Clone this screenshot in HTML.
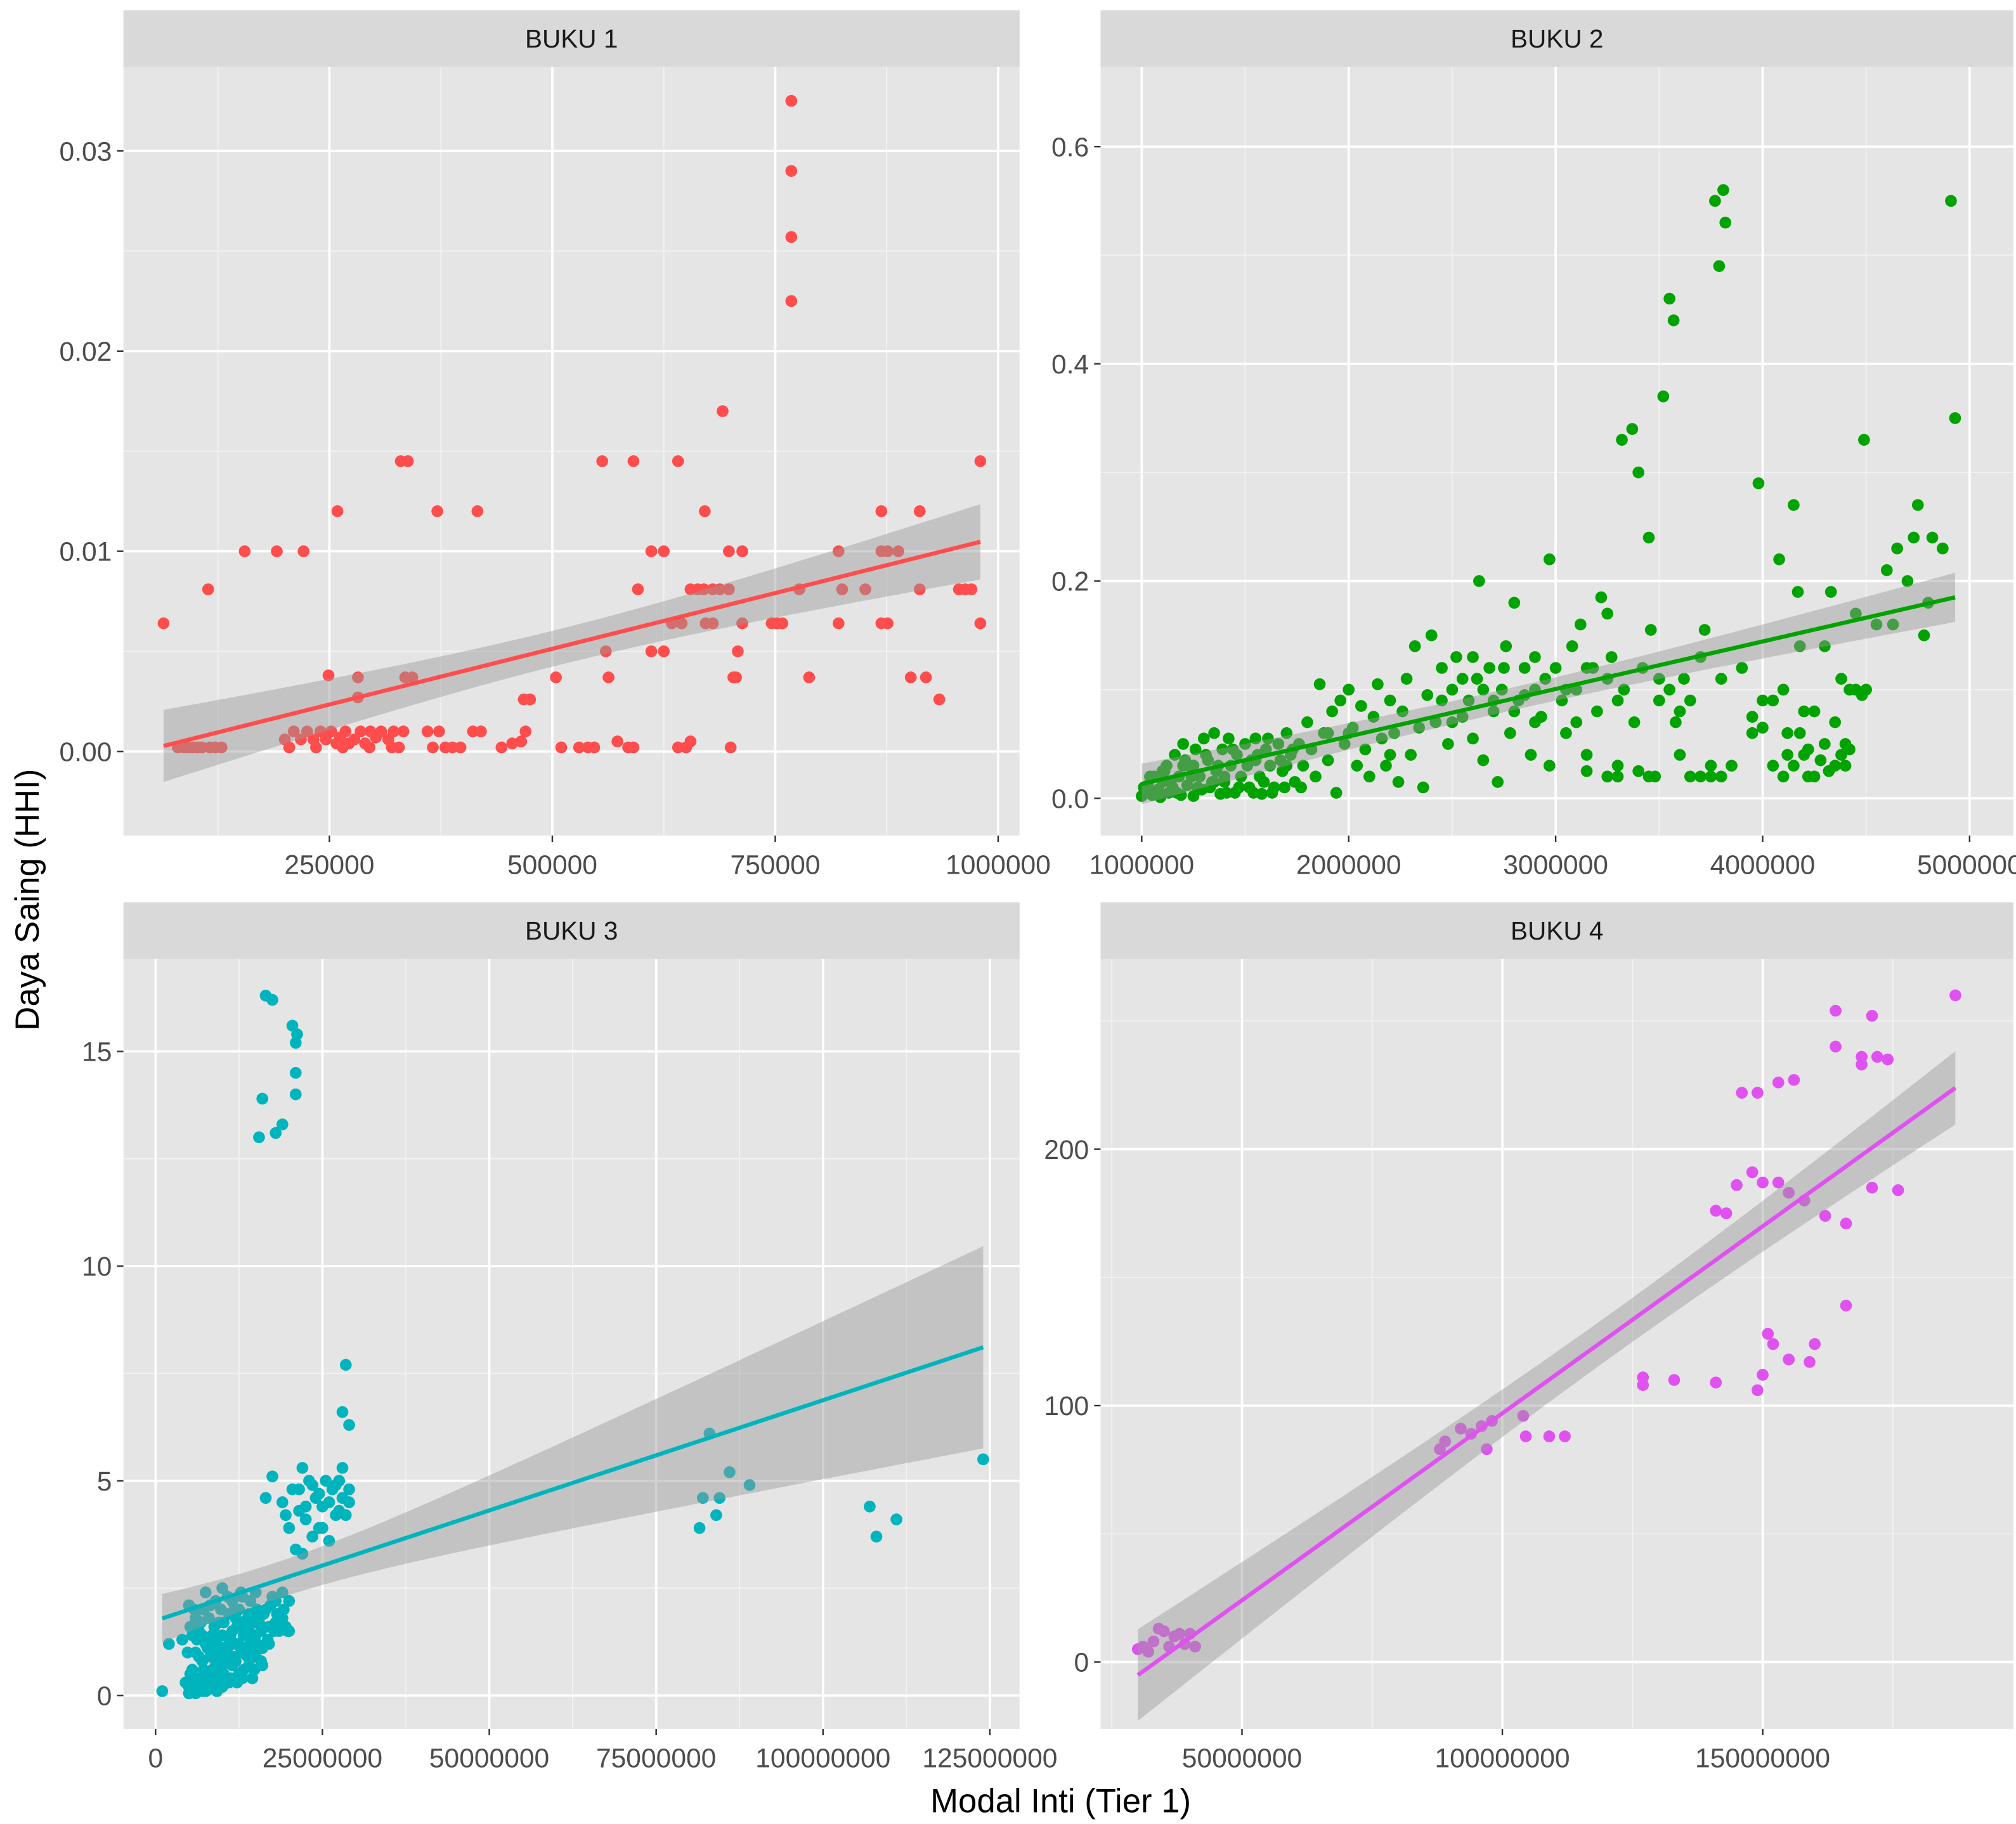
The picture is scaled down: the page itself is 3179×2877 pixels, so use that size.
<!DOCTYPE html>
<html><head><meta charset="utf-8"><style>
html,body{margin:0;padding:0;background:#fff;}
svg{display:block;}
text{font-family:"Liberation Sans",Arial,sans-serif;}
</style></head><body>
<svg id="chart" xmlns="http://www.w3.org/2000/svg" width="3179" height="2877" viewBox="0 0 1568 1419">
<rect x="0" y="0" width="1568" height="1419" fill="#fff"/>
<text x="825" y="1410" font-size="26" text-anchor="middle" fill="#000">Modal Inti (Tier 1)</text>
<text x="0" y="0" transform="translate(30,700) rotate(-90)" font-size="26" text-anchor="middle" fill="#000">Daya Saing (HHI)</text>
</svg>
<script>
// ---- BUKU 1 data (x in thousands) ----
const b1x = [64,87,97,107,116,129,114,155,191,221,249,259,282,282,200,210,218,225,232,240,246,252,258,262,268,272,278,285,290,296,302,308,316,322,328,333,330,338,335,343,371,416,360,366,373,380,388,397,411,420,443,455,465,470,468,475,504,510,530,540,547,556,560,563,573,585,591,591,596,611,611,625,625,641,641,650,655,634,645,655,663,670,680,688,698,671,691,698,713,703,706,708,700,672,680,713,746,752,758,768,768,768,768,777,788,821,825,821,851,869,869,876,869,876,888,902,912,912,919,934,956,963,970,980,980,80,92,102,122,205,235,265,295,320];
const b1y = [.0064,.0002,.0002,.0002,.0002,.0002,.0081,.010,.010,.010,.0038,.012,.0037,.0027,.0006,.0010,.0006,.0010,.0006,.0010,.0006,.0010,.0004,.0007,.0010,.0004,.0006,.0010,.0004,.0010,.0007,.0010,.0006,.0010,.0002,.0010,.0145,.0145,.0037,.0037,.012,.012,.001,.0002,.001,.0002,.0002,.0002,.001,.001,.0002,.0004,.0005,.001,.0026,.0026,.0037,.0002,.0002,.0002,.0002,.0145,.005,.0037,.0005,.0002,.0002,.0145,.0081,.010,.005,.005,.010,.0145,.0002,.0002,.0005,.0064,.0064,.0081,.0081,.0081,.0081,.0081,.0081,.012,.017,.010,.010,.0037,.0037,.005,.0002,.0064,.0064,.0064,.0064,.0064,.0064,.0325,.029,.0257,.0225,.0081,.0037,.010,.0081,.0064,.0081,.012,.010,.010,.0064,.0064,.010,.0037,.012,.0081,.0037,.0026,.0081,.0081,.0081,.0064,.0145,.0002,.0002,.0002,.0002,.0002,.0002,.0002,.0002,.0002];
// ---- BUKU 2 data (x in millions) ----
const b2x = [1.00,1.02,1.03,1.05,1.06,1.08,1.09,1.1,1.12,1.13,1.15,1.16,1.18,1.19,1.2,1.22,1.23,1.25,1.26,1.28,1.29,1.3,1.32,1.33,1.35,1.36,1.38,1.39,1.4,1.42,1.43,1.45,1.46,1.48,1.5,1.52,1.53,1.55,1.57,1.58,1.6,1.62,1.64,1.66,1.68,1.7,1.72,1.74,1.76,1.78,1.8,1.82,1.84,1.86,1.88,1.9,1.92,1.94,1.96,1.98,2.0,2.02,2.04,2.06,2.08,2.1,2.12,2.14,2.16,2.18,2.2,2.22,2.24,2.26,2.28,2.3,2.32,2.34,2.36,2.38,2.4,2.42,2.45,2.48,2.5,2.52,2.55,2.58,2.6,2.62,2.63,2.65,2.68,2.7,2.72,2.74,2.76,2.78,2.8,2.82,2.85,2.88,2.9,2.93,2.97,2.97,3.0,3.03,3.05,3.08,3.1,3.12,3.15,3.18,3.2,3.22,3.25,3.27,3.3,3.32,3.33,3.37,3.38,3.4,3.42,3.45,3.46,3.48,3.5,3.52,3.55,3.57,3.58,3.62,3.65,3.7,3.72,3.75,3.77,3.79,3.8,3.81,3.82,3.85,3.9,3.95,3.98,4.0,4.05,4.08,4.1,4.12,4.15,4.17,4.18,4.2,4.22,4.25,4.3,4.33,4.35,4.38,4.4,4.42,4.45,4.49,4.5,4.55,4.6,4.63,4.65,4.7,4.73,4.75,4.78,4.8,4.82,4.87,4.91,4.93,2.2,2.5,2.9,3.1,3.3,3.5,3.65,2.0,1.7,1.9,1.1,1.25,1.4,1.55,1.35,1.2,
 4.1,4.12,4.15,4.18,4.2,4.22,4.25,4.28,4.3,4.32,4.35,4.38,4.4,4.42,4.05,4.0,3.95,4.45,4.48,3.8,3.75,3.7,3.6,3.45,3.4,3.3,3.25,3.15,3.6,3.55,
 1.01,1.04,1.07,1.11,1.14,1.17,1.21,1.24,1.27,1.31,1.34,1.37,1.41,1.44,1.47,1.51,1.54,1.56,1.59,1.61,1.63,1.67,1.69,1.73,1.77,
 2.45,2.55,2.65,2.75,2.85,2.95,3.05,3.15,3.25,2.6,2.7,2.8,2.9];
const b2y = [.002,.005,.012,.003,.02,.008,.001,.015,.03,.005,.01,.04,.02,.003,.05,.012,.03,.002,.045,.02,.008,.055,.035,.01,.06,.025,.004,.045,.015,.055,.03,.005,.04,.02,.05,.01,.035,.055,.02,.004,.045,.03,.01,.05,.025,.06,.04,.015,.05,.03,.07,.045,.02,.105,.06,.035,.08,.005,.09,.05,.1,.065,.03,.085,.045,.02,.075,.105,.055,.03,.09,.06,.015,.08,.11,.04,.14,.065,.01,.095,.15,.07,.12,.05,.1,.13,.075,.09,.055,.11,.2,.035,.12,.08,.015,.1,.14,.06,.18,.09,.12,.04,.1,.075,.22,.03,.12,.09,.06,.14,.1,.16,.025,.12,.08,.185,.17,.13,.02,.33,.1,.34,.07,.3,.12,.24,.155,.02,.09,.37,.46,.44,.07,.11,.02,.13,.155,.02,.55,.49,.11,.56,.53,.03,.12,.06,.29,.09,.03,.22,.1,.06,.27,.19,.14,.04,.02,.08,.14,.19,.03,.11,.05,.1,.17,.33,.1,.16,.21,.16,.23,.2,.24,.27,.15,.18,.24,.23,.55,.35,.04,.07,.07,.07,.09,.11,.09,.06,.03,.06,.025,.03,.02,.035,.015,.03,
 .02,.04,.03,.06,.08,.045,.02,.035,.05,.025,.07,.04,.03,.045,.09,.065,.075,.1,.095,.02,.03,.02,.04,.02,.025,.03,.02,.04,.08,.1,
 .01,.02,.006,.025,.015,.005,.035,.02,.01,.04,.015,.03,.005,.045,.01,.03,.005,.04,.015,.055,.005,.035,.01,.045,.01,
 .09,.11,.1,.12,.095,.11,.1,.12,.11,.13,.09,.08,.13];
// ---- BUKU 3 data (x in millions) ----
const b3x = [1,2,4,5,5,5.5,6,6,6.5,7,7,7.5,7.5,8,8,8.5,9,9,9.5,10,10,10.5,11,11,11.5,12,12.5,13,13,13.5,14,14,14.5,15,15,15.5,16,16.5,17,17.5,18,18.5,19,19.5,20,5.5,6.5,8.5,9.5,11.5,12.5,14.5,16,10,5,6,7,8,9,15.5,16,16.5,17.5,18,19,20.5,21,21.2,21,21,16.5,17.5,19,19.5,20,20.5,21,21.5,22,22.5,23,23.5,24,24.5,25,25.5,26,26.5,27,27.5,28,28,28.5,29,28.5,28,29,81.5,82,83,84,84.5,86,89,107,108,111,124,
 4.5,4.8,5.2,5.2,5.8,5.8,6.2,6.2,6.8,6.8,7.2,7.2,7.8,7.8,8.2,8.2,8.8,8.8,9.2,9.2,9.8,9.8,10.2,10.2,10.8,10.8,11.2,11.2,11.8,11.8,12.2,12.2,12.8,12.8,13.2,13.2,13.8,13.8,14.2,14.2,14.8,14.8,15.2,15.2,15.8,15.8,16.2,16.8,17.2,17.8,18.2,18.8,19.2,19.8,5,5.5,6,6.5,7,7.5,8,8.5,9,9.5,10,10.5,11,11.5,12,12.5,13,13.5,14,14.5,15,16,17,18,19,20,6,7,8,9,10,11,12,13,14,15,22.5,23.5,24.5,26,27,22,21.5,25,27.5,29];
const b3y = [0.1,1.2,1.3,2.1,0.2,0.6,1.0,0.3,1.5,0.1,0.8,2.4,1.2,0.5,1.8,0.2,2.2,1.0,0.6,2.5,1.4,0.3,1.9,0.8,2.2,1.2,0.5,1.7,2.3,1.0,0.7,1.9,1.4,2.4,0.9,1.8,1.1,2.0,1.6,2.3,1.7,1.5,2.4,1.6,1.5,1.4,0.9,1.4,1.7,1.5,2.0,0.4,0.7,0.2,0.05,0.1,0.2,0.15,0.3,13,13.9,16.3,16.2,13.1,13.3,15.6,15.2,15.4,14.5,14,4.6,5.1,4.5,4.2,3.9,4.8,3.4,4.3,5.3,4.1,5.0,3.7,4.6,3.9,4.4,5.0,3.6,4.8,4.9,4.3,5.3,4.6,4.2,4.5,7.7,6.6,6.3,3.9,4.6,6.1,4.2,4.6,5.2,4.9,4.4,3.7,4.1,5.5,
 0.3,1.0,0.5,1.6,0.1,2.0,0.4,1.3,0.2,1.7,0.6,2.0,0.3,1.1,0.9,2.1,0.4,1.6,0.1,1.2,0.8,2.0,0.5,1.7,1.1,2.3,0.4,1.4,0.9,2.0,0.3,1.6,1.0,2.4,0.6,1.4,1.8,0.9,1.2,2.2,0.6,1.7,1.2,2.0,1.5,0.8,1.9,1.3,2.1,1.5,1.9,1.6,2.0,1.5,0.05,0.1,0.05,0.3,0.4,0.1,0.2,0.6,0.3,0.2,0.7,0.9,0.3,0.7,0.8,1.2,0.4,1.6,1.5,1.0,1.4,1.6,1.2,2.2,1.8,2.2,1.8,1.4,1.3,0.7,1.1,1.2,1.8,1.1,1.1,1.9,4.4,4.9,4.7,4.5,4.2,3.3,4.8,3.9,5.0,4.8];
// ---- BUKU 4 data (x in millions) ----
const b4x = [30,31,32,33,34,35,36,37,38,39,40,41,88,89,92,94,96,97,98,104,104.5,109,112,127,127,133,141,141,143,145,146,148,149,149,150,150,151,152,153,153,155,155,156,158,159,160,162,164,164,166,166,169,169,171,171,172,174,176,187];
const b4y = [5,6,4,8,13,12,6,10,11,7,11,6,83,86,91,89,92,83,94,96,88,88,88,111,108,110,109,176,175,186,222,191,222,106,112,187,128,124,226,187,183,118,227,180,117,124,174,254,240,171,139,233,236,185,252,236,235,184,260];
// ---- tick labels ----
const b1xTicks = [250000,500000,750000,1000000];
const b1yTicks = [0,0.01,0.02,0.03];
const b1yLabels = ["0.00","0.01","0.02","0.03"];
const b2xTicks = [1000000,2000000,3000000,4000000,5000000];
const b2yTicks = [0,0.2,0.4,0.6];
const b2yLabels = ["0.0","0.2","0.4","0.6"];
const b3xTicks = [0,25000000,50000000,75000000,100000000,125000000];
const b3yTicks = [0,5,10,15];
const b3yLabels = ["0","5","10","15"];
const b4xTicks = [50000000,100000000,150000000];
const b4yTicks = [0,100,200];
const b4yLabels = ["0","100","200"];

const NS='http://www.w3.org/2000/svg';
const svg=document.getElementById('chart');
function mk(tag,attrs,parent){const e=document.createElementNS(NS,tag);for(const k in attrs)e.setAttribute(k,attrs[k]);(parent||svg).appendChild(e);return e;}

const panels=[
 {title:'BUKU 1',key:'buku-1',x0:96,x1:793,y0:52,y1:650,xs:b1x.map(v=>v*1e3),ys:b1y,dx:[19000,1024000],dy:[-0.0042,0.0342],xt:b1xTicks,xmin:[125000,375000,625000,875000],yt:b1yTicks,yl:b1yLabels,ymin:[0.005,0.015,0.025],col:'#FF4D4D'},
 {title:'BUKU 2',key:'buku-2',x0:856,x1:1566,y0:52,y1:650,xs:b2x.map(v=>v*1e6),ys:b2y,dx:[801200,5211800],dy:[-0.0343,0.6734],xt:b2xTicks,xmin:[1500000,2500000,3500000,4500000],yt:b2yTicks,yl:b2yLabels,ymin:[0.1,0.3,0.5],col:'#00A300'},
 {title:'BUKU 3',key:'buku-3',x0:96,x1:793,y0:746,y1:1345,xs:b3x.map(v=>v*1e6),ys:b3y,dx:[-4815000,129450000],dy:[-0.778,17.155],xt:b3xTicks,xmin:[12500000,37500000,62500000,87500000,112500000],yt:b3yTicks,yl:b3yLabels,ymin:[2.5,7.5,12.5],col:'#00B4BE'},
 {title:'BUKU 4',key:'buku-4',x0:856,x1:1566,y0:746,y1:1345,xs:b4x.map(v=>v*1e6),ys:b4y,dx:[22840000,198150000],dy:[-26.07,274.2],xt:b4xTicks,xmin:[25000000,75000000,125000000,175000000],yt:b4yTicks,yl:b4yLabels,ymin:[50,150,250],col:'#E052F0'}
];

panels.forEach(p=>{
 const strip=p.y0-44;
 const X=v=>p.x0+(v-p.dx[0])/(p.dx[1]-p.dx[0])*(p.x1-p.x0);
 const Y=v=>p.y1-(v-p.dy[0])/(p.dy[1]-p.dy[0])*(p.y1-p.y0);
 const g=mk('g',{});
 
 
 const st=mk('rect',{x:p.x0,y:strip,width:p.x1-p.x0,height:44,fill:'#D9D9D9'},g);
 
 
 const stt=mk('text',{x:(p.x0+p.x1)/2,y:strip+29,'font-size':20,'text-anchor':'middle',fill:'#1A1A1A'},g);
 stt.textContent=p.title;
 
 
 const bg=mk('rect',{x:p.x0,y:p.y0,width:p.x1-p.x0,height:p.y1-p.y0,fill:'#E5E5E5'},g);
 
 
 p.xmin.forEach(v=>{const l=mk('line',{x1:X(v),x2:X(v),y1:p.y0,y2:p.y1,stroke:'#F2F2F2','stroke-width':0.9},g);});
 p.ymin.forEach(v=>{const l=mk('line',{x1:p.x0,x2:p.x1,y1:Y(v),y2:Y(v),stroke:'#F2F2F2','stroke-width':0.9},g);});
 p.xt.forEach(v=>{
  const l=mk('line',{x1:X(v),x2:X(v),y1:p.y0,y2:p.y1,stroke:'#fff','stroke-width':1.8},g);
  
  
  const t=mk('line',{x1:X(v),x2:X(v),y1:p.y1,y2:p.y1+5,stroke:'#333','stroke-width':1.2},g);
  
  
  const tx=mk('text',{x:X(v),y:p.y1+30,'font-size':21,'text-anchor':'middle',fill:'#4D4D4D'},g);
  tx.textContent=String(v);
  
  
 });
 p.yt.forEach((v,i)=>{
  const l=mk('line',{x1:p.x0,x2:p.x1,y1:Y(v),y2:Y(v),stroke:'#fff','stroke-width':1.8},g);
  
  
  const t=mk('line',{x1:p.x0-5,x2:p.x0,y1:Y(v),y2:Y(v),stroke:'#333','stroke-width':1.2},g);
  
  
  const tx=mk('text',{x:p.x0-9,y:Y(v)+7.5,'font-size':21,'text-anchor':'end',fill:'#4D4D4D'},g);
  tx.textContent=p.yl[i];
  
  
 });
 p.xs.forEach((xv,i)=>{
  const c=mk('circle',{cx:X(xv),cy:Y(p.ys[i]),r:4.6,fill:p.col},g);
  
  
 });
 const n=p.xs.length;let mx=0,my=0;p.xs.forEach((v,i)=>{mx+=v;my+=p.ys[i];});mx/=n;my/=n;
 let sxx=0,sxy=0;p.xs.forEach((v,i)=>{sxx+=(v-mx)*(v-mx);sxy+=(v-mx)*(p.ys[i]-my);});
 const b=sxy/sxx,a=my-b*mx;let sse=0;p.xs.forEach((v,i)=>{const r=p.ys[i]-(a+b*v);sse+=r*r;});
 const s=Math.sqrt(sse/(n-2));
 const xlo=Math.min(...p.xs),xhi=Math.max(...p.xs);
 const up=[],dn=[];
 for(let k=0;k<=40;k++){const xv=xlo+(xhi-xlo)*k/40;const se=1.97*s*Math.sqrt(1/n+(xv-mx)*(xv-mx)/sxx);const yv=a+b*xv;up.push(X(xv)+','+Y(yv+se));dn.unshift(X(xv)+','+Y(yv-se));}
 const rib=mk('polygon',{points:up.concat(dn).join(' '),fill:'#999','fill-opacity':0.45},g);
 
 
 const ln=mk('line',{x1:X(xlo),y1:Y(a+b*xlo),x2:X(xhi),y2:Y(a+b*xhi),stroke:p.col,'stroke-width':3.2},g);
 
 
});
</script>
</body></html>
